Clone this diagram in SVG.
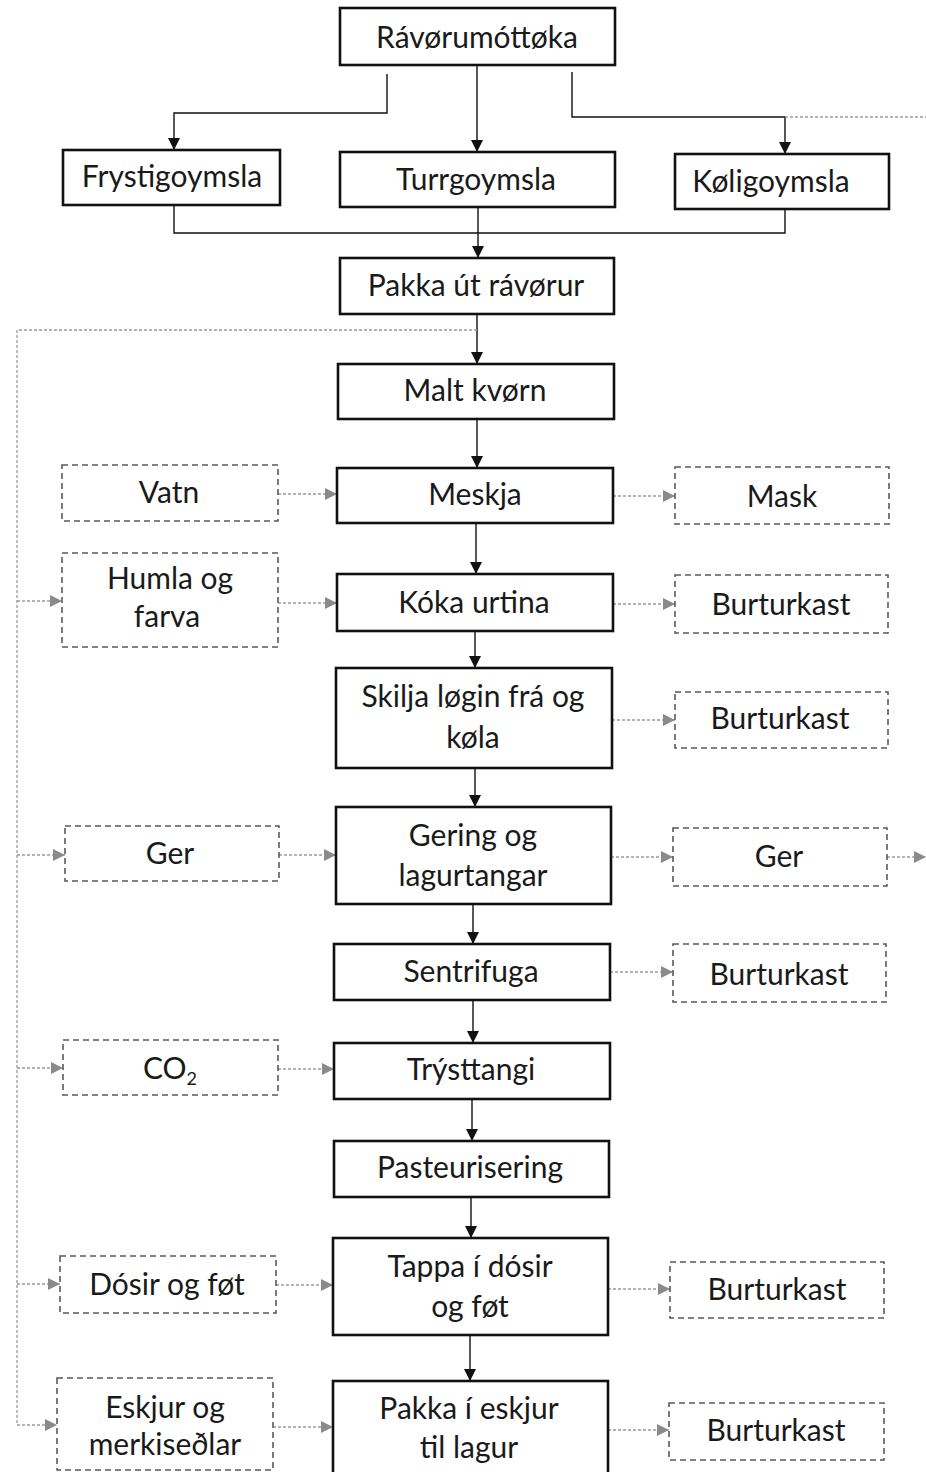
<svg xmlns="http://www.w3.org/2000/svg" width="926" height="1472" viewBox="0 0 926 1472">
<defs>
<style>
.m{fill:#fff;stroke:#111;stroke-width:2.6}
.d{fill:#fff;stroke:#5a5a5a;stroke-width:1.6;stroke-dasharray:6 4}
.t{font-family:Lato,"Open Sans",sans-serif;font-size:30px;fill:#1a1a1a;text-anchor:middle}
.s{fill:none;stroke:#111;stroke-width:1.4}
.g{fill:none;stroke:#9a9a9a;stroke-width:1.3;stroke-dasharray:3 2}
</style>
<marker id="a" viewBox="0 0 10 10" refX="10" refY="5" markerWidth="12" markerHeight="12" markerUnits="userSpaceOnUse" orient="auto"><path d="M0,0L10,5L0,10z" fill="#111"/></marker>
<marker id="b" viewBox="0 0 10 10" refX="10" refY="5" markerWidth="12" markerHeight="12" markerUnits="userSpaceOnUse" orient="auto"><path d="M0,0L10,5L0,10z" fill="#8a8a8a"/></marker>
</defs>
<rect width="926" height="1472" fill="#fff"/>
<g id="connectors">
<path class="s" d="M477,65V152" marker-end="url(#a)"/>
<path class="s" d="M387,74V113H174V150" marker-end="url(#a)"/>
<path class="s" d="M572,72V117H785V154" marker-end="url(#a)"/>
<path class="g" d="M785,117H926"/>
<path class="s" d="M174,205V233H785V209"/>
<path class="s" d="M478,207V258" marker-end="url(#a)"/>
<path class="s" d="M477,314V364" marker-end="url(#a)"/>
<path class="g" d="M477,330H17V1425"/>
<path class="s" d="M477,419V468" marker-end="url(#a)"/>
<path class="s" d="M476,523V574" marker-end="url(#a)"/>
<path class="s" d="M475,631V668" marker-end="url(#a)"/>
<path class="s" d="M475,768V807" marker-end="url(#a)"/>
<path class="s" d="M473,904V944" marker-end="url(#a)"/>
<path class="s" d="M473,1000V1043" marker-end="url(#a)"/>
<path class="s" d="M472,1099V1141" marker-end="url(#a)"/>
<path class="s" d="M471,1197V1238" marker-end="url(#a)"/>
<path class="s" d="M470,1335V1381" marker-end="url(#a)"/>
<path class="g" d="M278,494H337" marker-end="url(#b)"/>
<path class="g" d="M613,496H675" marker-end="url(#b)"/>
<path class="g" d="M17,601H62" marker-end="url(#b)"/>
<path class="g" d="M278,603H337" marker-end="url(#b)"/>
<path class="g" d="M613,604H675" marker-end="url(#b)"/>
<path class="g" d="M612,720H675" marker-end="url(#b)"/>
<path class="g" d="M17,855H65" marker-end="url(#b)"/>
<path class="g" d="M279,855H336" marker-end="url(#b)"/>
<path class="g" d="M611,857H673" marker-end="url(#b)"/>
<path class="g" d="M887,857H926" marker-end="url(#b)"/>
<path class="g" d="M610,972H673" marker-end="url(#b)"/>
<path class="g" d="M17,1068H63" marker-end="url(#b)"/>
<path class="g" d="M278,1069H334" marker-end="url(#b)"/>
<path class="g" d="M17,1284H60" marker-end="url(#b)"/>
<path class="g" d="M276,1285H333" marker-end="url(#b)"/>
<path class="g" d="M608,1289H670" marker-end="url(#b)"/>
<path class="g" d="M17,1425H57" marker-end="url(#b)"/>
<path class="g" d="M273,1427H333" marker-end="url(#b)"/>
<path class="g" d="M608,1430H669" marker-end="url(#b)"/>
</g>
<g id="ravorumottoka"><rect class="m" x="340" y="8" width="275" height="57"/><text class="t" x="477" y="48">Rávørumóttøka</text></g>
<g id="frystigoymsla"><rect class="m" x="63" y="150" width="217" height="55"/><text class="t" x="172" y="187">Frystigoymsla</text></g>
<g id="turrgoymsla"><rect class="m" x="340" y="152" width="275" height="55"/><text class="t" x="476" y="190">Turrgoymsla</text></g>
<g id="koligoymsla"><rect class="m" x="675" y="154" width="214" height="55"/><text class="t" x="771" y="192">Køligoymsla</text></g>
<g id="pakka-ut"><rect class="m" x="340" y="258" width="274" height="56"/><text class="t" x="476" y="296">Pakka út rávørur</text></g>
<g id="malt-kvorn"><rect class="m" x="338" y="364" width="276" height="55"/><text class="t" x="475" y="401">Malt kvørn</text></g>
<g id="meskja"><rect class="m" x="337" y="468" width="276" height="55"/><text class="t" x="475" y="505">Meskja</text></g>
<g id="koka"><rect class="m" x="337" y="574" width="276" height="57"/><text class="t" x="474" y="613">Kóka urtina</text></g>
<g id="skilja"><rect class="m" x="336" y="668" width="276" height="100"/><text class="t" x="473" y="707">Skilja løgin frá og</text><text class="t" x="473" y="748">køla</text></g>
<g id="gering"><rect class="m" x="336" y="807" width="275" height="97"/><text class="t" x="473" y="846">Gering og</text><text class="t" x="473" y="886">lagurtangar</text></g>
<g id="sentrifuga"><rect class="m" x="334" y="944" width="276" height="56"/><text class="t" x="471" y="982">Sentrifuga</text></g>
<g id="trysttangi"><rect class="m" x="334" y="1043" width="276" height="56"/><text class="t" x="471" y="1080">Trýsttangi</text></g>
<g id="pasteurisering"><rect class="m" x="334" y="1141" width="275" height="56"/><text class="t" x="470" y="1178">Pasteurisering</text></g>
<g id="tappa"><rect class="m" x="333" y="1238" width="275" height="97"/><text class="t" x="470" y="1277">Tappa í dósir</text><text class="t" x="470" y="1317">og føt</text></g>
<g id="pakka-i"><rect class="m" x="333" y="1381" width="275" height="95"/><text class="t" x="469" y="1419">Pakka í eskjur</text><text class="t" x="469" y="1458">til lagur</text></g>
<g id="vatn"><rect class="d" x="62" y="465" width="216" height="56"/><text class="t" x="169" y="503">Vatn</text></g>
<g id="humla"><rect class="d" x="62" y="553" width="216" height="94"/><text class="t" x="170" y="589">Humla og</text><text class="t" x="167" y="627">farva</text></g>
<g id="ger-in"><rect class="d" x="65" y="826" width="214" height="55"/><text class="t" x="170" y="864">Ger</text></g>
<g id="co2"><rect class="d" x="63" y="1040" width="215" height="55"/><text class="t" x="170" y="1079">CO<tspan font-size="18" dy="6">2</tspan></text></g>
<g id="dosir"><rect class="d" x="60" y="1256" width="216" height="57"/><text class="t" x="167" y="1295">Dósir og føt</text></g>
<g id="eskjur"><rect class="d" x="57" y="1378" width="216" height="92"/><text class="t" x="165" y="1418">Eskjur og</text><text class="t" x="165" y="1455">merkiseðlar</text></g>
<g id="mask"><rect class="d" x="675" y="467" width="214" height="57"/><text class="t" x="782" y="507">Mask</text></g>
<g id="burturkast1"><rect class="d" x="675" y="575" width="213" height="58"/><text class="t" x="781" y="615">Burturkast</text></g>
<g id="burturkast2"><rect class="d" x="675" y="692" width="213" height="56"/><text class="t" x="780" y="729">Burturkast</text></g>
<g id="ger-out"><rect class="d" x="673" y="828" width="214" height="58"/><text class="t" x="779" y="867">Ger</text></g>
<g id="burturkast3"><rect class="d" x="673" y="944" width="213" height="58"/><text class="t" x="779" y="985">Burturkast</text></g>
<g id="burturkast4"><rect class="d" x="670" y="1262" width="214" height="56"/><text class="t" x="777" y="1300">Burturkast</text></g>
<g id="burturkast5"><rect class="d" x="669" y="1403" width="215" height="57"/><text class="t" x="776" y="1441">Burturkast</text></g>
</svg>
